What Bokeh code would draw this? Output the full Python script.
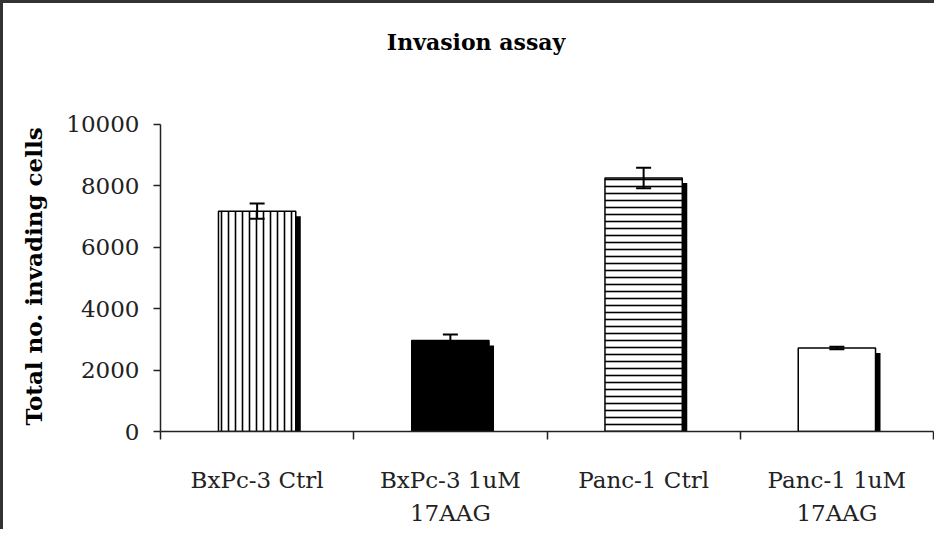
import numpy as np
from bokeh.plotting import figure
from bokeh.models import Range1d, FixedTicker, Whisker, ColumnDataSource, TeeHead, Label, Title
from bokeh.embed import file_html
from bokeh.resources import INLINE

title = "Invasion assay"
y_label = "Total no. invading cells"
categories = ["BxPc-3 Ctrl", "BxPc-3 1uM\n17AAG", "Panc-1 Ctrl", "Panc-1 1uM\n17AAG"]
values = [7170, 2960, 8250, 2720]
errors = [250, 200, 330, 40]
fills = ["white", "black", "white", "white"]
hatches = ["|", " ", "-", " "]
y_ticks = [0, 2000, 4000, 6000, 8000, 10000]

W, H = 934, 529
ML, MR, MT, MB = 159, 1, 10, 97
AXIS_TOP = 124          # canvas y where the top tick sits
n = len(categories)
xs = np.arange(n) + 0.5
vals = np.array(values, dtype=float)
errs = np.array(errors, dtype=float)

frame_h = H - MT - MB
axis_px = (H - MB) - AXIS_TOP
px_per_y = axis_px / y_ticks[-1]
y_end = frame_h / px_per_y
px_per_x = (W - ML - MR) / n
dx = 5 / px_per_x
dy = 5 / px_per_y

src = ColumnDataSource(dict(x=xs, top=vals, upper=vals + errs, lower=vals - errs,
                            fill=fills, hatch=hatches, sx=xs + dx, stop=vals - dy))

p = figure(width=W, height=H, x_range=Range1d(0, n), y_range=Range1d(0, y_end),
           output_backend="svg", toolbar_location=None,
           min_border_left=ML, min_border_right=MR, min_border_top=MT, min_border_bottom=MB)
p.outline_line_color = None
p.grid.visible = False
p.border_fill_color = None
p.styles = {"box-shadow": "inset 3px 3px 0 0 #333"}

# chart title placed in the space above the axis
title_x = (475 - ML) / px_per_x
title_y = ((H - MB) - 42) / px_per_y
p.add_layout(Label(x=title_x, y=title_y, text=title, text_font="DejaVu Serif",
                   text_font_style="bold", text_font_size="22px", text_color="black",
                   text_align="center", text_baseline="middle"))

xa = p.xaxis[0]
xa.ticker = FixedTicker(ticks=list(xs), minor_ticks=list(range(n + 1)))
xa.major_label_overrides = {float(x): c for x, c in zip(xs, categories)}
xa.major_tick_out = 0
xa.major_tick_in = 0
xa.minor_tick_out = 8
xa.minor_tick_in = 0
xa.minor_tick_line_color = "#222"
xa.minor_tick_line_width = 1.5
xa.axis_line_color = "#222"
xa.axis_line_width = 1.5
xa.major_label_text_font = "DejaVu Serif"
xa.major_label_text_font_size = "23px"
xa.major_label_text_color = "#222"
xa.major_label_text_line_height = 1.3
xa.major_label_standoff = 27

ya = p.yaxis[0]
ya.ticker = FixedTicker(ticks=y_ticks)
ya.bounds = (y_ticks[0], y_ticks[-1])
ya.minor_tick_line_color = None
ya.major_tick_in = 0
ya.major_tick_out = 7
ya.major_tick_line_color = "#222"
ya.major_tick_line_width = 1.5
ya.axis_line_color = "#222"
ya.axis_line_width = 1.5
ya.major_label_text_font = "DejaVu Serif"
ya.major_label_text_font_size = "23px"
ya.major_label_text_color = "#222"
ya.major_label_standoff = 14

# y axis title, aligned along the 0..10000 part of the axis
p.add_layout(Title(text=y_label, text_font="DejaVu Serif", text_font_style="bold",
                   text_font_size="23px", text_color="black", align="left",
                   offset=6, standoff=34), "left")

# drop shadows
p.vbar(x="sx", top="stop", width=0.4, source=src, fill_color="black", line_color=None)
# bars
p.vbar(x="x", top="top", width=0.4, source=src, fill_color="fill", line_color="black",
       line_width=1.5, hatch_pattern="hatch", hatch_color="black", hatch_scale=7,
       hatch_weight=1.6)

wh = Whisker(source=src, base="x", upper="upper", lower="lower", line_width=2,
             line_color="black",
             upper_head=TeeHead(size=15, line_width=2, line_color="black"),
             lower_head=TeeHead(size=15, line_width=2, line_color="black"))
wh.level = "overlay"
p.add_layout(wh)

open("out.html", "w").write(file_html(p, INLINE))
